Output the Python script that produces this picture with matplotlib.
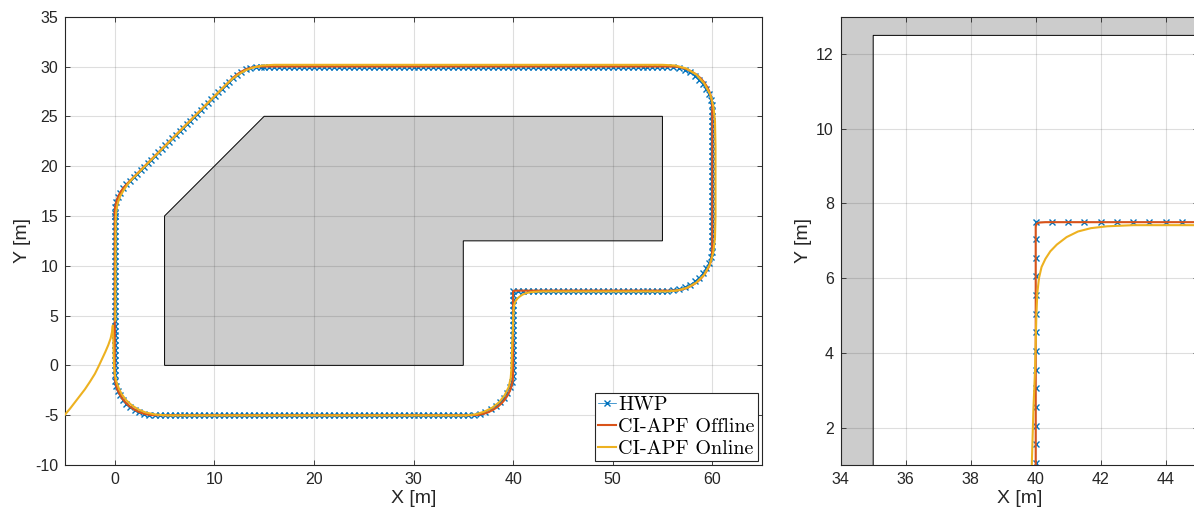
import numpy as np
import matplotlib
matplotlib.use("Agg")
import matplotlib.pyplot as plt
from matplotlib.patches import Polygon
from matplotlib.lines import Line2D
from matplotlib.font_manager import FontProperties

plt.rcParams['font.family'] = ['Liberation Sans', 'DejaVu Sans']
plt.rcParams['axes.unicode_minus'] = False

# ---------------- data ----------------
# obstacle polygon
OBST_X = [5, 5, 15, 55, 55, 35, 35]
OBST_Y = [0, 15, 25, 25, 12.5, 12.5, 0]

# HWP waypoints, segment by segment (counter-clockwise, starting on the left side going down)
HWP_LEFT_X = 0.0
HWP_LEFT_Y = [15.0, 14.5, 14.0, 13.5, 13.0, 12.5, 12.0, 11.5, 11.0, 10.5, 10.0, 9.5, 9.0, 8.5, 8.0,
              7.5, 7.0, 6.5, 6.0, 5.5, 5.0, 4.5, 4.0, 3.5, 3.0, 2.5, 2.0, 1.5, 1.0, 0.5, 0.0, -0.5, -1.0]
HWP_ARC_BL_X = [0.03, 0.14, 0.30, 0.54, 0.83, 1.17, 1.56, 2.00, 2.47, 2.96, 3.48]
HWP_ARC_BL_Y = [-1.52, -2.04, -2.53, -3.00, -3.44, -3.83, -4.17, -4.46, -4.70, -4.86, -4.97]
HWP_BOTTOM_X = [4.0, 4.5, 5.0, 5.5, 6.0, 6.5, 7.0, 7.5, 8.0, 8.5, 9.0, 9.5, 10.0, 10.5, 11.0, 11.5,
                12.0, 12.5, 13.0, 13.5, 14.0, 14.5, 15.0, 15.5, 16.0, 16.5, 17.0, 17.5, 18.0, 18.5,
                19.0, 19.5, 20.0, 20.5, 21.0, 21.5, 22.0, 22.5, 23.0, 23.5, 24.0, 24.5, 25.0, 25.5,
                26.0, 26.5, 27.0, 27.5, 28.0, 28.5, 29.0, 29.5, 30.0, 30.5, 31.0, 31.5, 32.0, 32.5,
                33.0, 33.5, 34.0, 34.5, 35.0, 35.5]
HWP_BOTTOM_Y = -5.0
HWP_ARC_BR_X = [36.09, 36.67, 37.22, 37.75, 38.24, 38.68, 39.07, 39.40, 39.66, 39.85, 39.96]
HWP_ARC_BR_Y = [-4.96, -4.85, -4.66, -4.40, -4.07, -3.68, -3.24, -2.75, -2.22, -1.66, -1.09]
HWP_MID_X = 40.0
HWP_MID_Y = [-0.45, 0.05, 0.55, 1.05, 1.55, 2.05, 2.55, 3.05, 3.55, 4.05, 4.55, 5.05, 5.55,
             6.05, 6.55, 7.05, 7.5]
HWP_INNER_X = [40.5, 41.0, 41.5, 42.0, 42.5, 43.0, 43.5, 44.0, 44.5, 45.0, 45.5, 46.0, 46.5, 47.0,
               47.5, 48.0, 48.5, 49.0, 49.5, 50.0, 50.5, 51.0, 51.5, 52.0, 52.5, 53.0, 53.5, 54.0,
               54.5, 55.0, 55.5]
HWP_INNER_Y = 7.5
HWP_ARC_RB_X = [56.09, 56.67, 57.22, 57.75, 58.24, 58.68, 59.07, 59.40, 59.66, 59.85, 59.96]
HWP_ARC_RB_Y = [7.54, 7.65, 7.84, 8.10, 8.43, 8.82, 9.26, 9.75, 10.28, 10.84, 11.41]
HWP_RIGHT_X = 60.0
HWP_RIGHT_Y = [12.0, 12.5, 13.0, 13.5, 14.0, 14.5, 15.0, 15.5, 16.0, 16.5, 17.0, 17.5, 18.0, 18.5,
               19.0, 19.5, 20.0, 20.5, 21.0, 21.5, 22.0, 22.5, 23.0, 23.5, 24.0, 24.5, 25.0, 25.5]
HWP_ARC_TR_X = [59.96, 59.85, 59.66, 59.40, 59.07, 58.68, 58.24, 57.75, 57.22, 56.67, 56.09]
HWP_ARC_TR_Y = [26.09, 26.67, 27.22, 27.75, 28.24, 28.68, 29.07, 29.40, 29.66, 29.85, 29.96]
HWP_TOP_X = [55.5, 55.0, 54.5, 54.0, 53.5, 53.0, 52.5, 52.0, 51.5, 51.0, 50.5, 50.0, 49.5, 49.0,
             48.5, 48.0, 47.5, 47.0, 46.5, 46.0, 45.5, 45.0, 44.5, 44.0, 43.5, 43.0, 42.5, 42.0,
             41.5, 41.0, 40.5, 40.0, 39.5, 39.0, 38.5, 38.0, 37.5, 37.0, 36.5, 36.0, 35.5, 35.0,
             34.5, 34.0, 33.5, 33.0, 32.5, 32.0, 31.5, 31.0, 30.5, 30.0, 29.5, 29.0, 28.5, 28.0,
             27.5, 27.0, 26.5, 26.0, 25.5, 25.0, 24.5, 24.0, 23.5, 23.0, 22.5, 22.0, 21.5, 21.0,
             20.5, 20.0, 19.5, 19.0, 18.5, 18.0, 17.5, 17.0, 16.5, 16.0, 15.5, 15.0]
HWP_TOP_Y = 30.0
HWP_ARC_TL_X = [14.66, 14.14, 13.62, 13.13, 12.66, 12.23, 11.83]
HWP_ARC_TL_Y = [30.0, 29.97, 29.86, 29.70, 29.46, 29.17, 28.83]
HWP_DIAG_X = [11.47, 11.12, 10.76, 10.41, 10.05, 9.70, 9.34, 8.99, 8.63, 8.28, 7.92, 7.57, 7.21,
              6.86, 6.50, 6.15, 5.79, 5.43, 5.08, 4.72, 4.37, 4.01, 3.66, 3.30, 2.95, 2.59, 2.24,
              1.88, 1.53]
HWP_DIAG_Y = [28.47, 28.12, 27.76, 27.41, 27.05, 26.70, 26.34, 25.99, 25.63, 25.28, 24.92, 24.57,
              24.21, 23.86, 23.50, 23.15, 22.79, 22.43, 22.08, 21.72, 21.37, 21.01, 20.66, 20.30,
              19.95, 19.59, 19.24, 18.88, 18.53]
HWP_ARC_LT_X = [1.17, 0.83, 0.54, 0.30, 0.14, 0.03, 0.0]
HWP_ARC_LT_Y = [18.17, 17.78, 17.34, 16.87, 16.38, 15.86, 15.34]

# CI-APF offline path (vertices)
OFF_X = [0.0, 0.0, 0.03, 0.14, 0.30, 0.54, 0.83, 1.17, 1.56, 2.00, 2.47, 2.96, 3.48, 4.0,
         36.0, 36.52, 37.04, 37.53, 38.00, 38.44, 38.83, 39.17, 39.46, 39.70, 39.86, 39.97, 40.0,
         40.0, 40.03, 40.12, 40.3,
         56.0, 56.52, 57.04, 57.53, 58.00, 58.44, 58.83, 59.17, 59.46, 59.70, 59.86, 59.97, 60.0,
         60.0, 59.97, 59.86, 59.70, 59.46, 59.17, 58.83, 58.44, 58.00, 57.53, 57.04, 56.52, 56.0,
         14.66, 14.14, 13.62, 13.13, 12.66, 12.23, 11.83,
         1.17, 0.83, 0.54, 0.30, 0.14, 0.03, 0.0]
OFF_Y = [15.34, -1.0, -1.52, -2.04, -2.53, -3.00, -3.44, -3.83, -4.17, -4.46, -4.70, -4.86, -4.97, -5.0,
         -5.0, -4.97, -4.86, -4.70, -4.46, -4.17, -3.83, -3.44, -3.00, -2.53, -2.04, -1.52, -1.0,
         7.38, 7.46, 7.49, 7.5,
         7.5, 7.53, 7.64, 7.80, 8.04, 8.33, 8.67, 9.06, 9.50, 9.97, 10.46, 10.98, 11.5,
         26.0, 26.52, 27.04, 27.53, 28.00, 28.44, 28.83, 29.17, 29.46, 29.70, 29.86, 29.97, 30.0,
         30.0, 29.97, 29.86, 29.70, 29.46, 29.17, 28.83,
         18.17, 17.78, 17.34, 16.87, 16.38, 15.86, 15.34]

# CI-APF online path (vertices)
ON_X = [-5.05, -4.5, -4.0, -3.5, -3.0, -2.5, -2.0, -1.65, -1.3, -0.95, -0.65, -0.42, -0.28, -0.2,
        -0.16, -0.12, -0.08, 0.0, 0.15, 0.38, 0.7, 1.15, 1.7, 2.35, 3.1, 4.0, 5.2, 35.3,
        36.2, 37.1, 37.9, 38.6, 39.15, 39.55, 39.76, 39.84, 39.88, 39.93, 39.98, 40.02, 40.05, 40.1,
        40.18, 40.3, 40.45, 40.65, 40.95, 41.3, 41.7, 42.2, 43.0, 55.5,
        56.5, 57.5, 58.4, 59.2, 59.75, 60.1, 60.28, 60.33, 60.33, 60.28, 60.12, 59.8, 59.2,
        58.4, 57.4, 56.3, 55.0, 16.0,
        14.8, 13.9, 13.1, 12.4, 11.8, 11.2, 1.6, 1.3, 0.9, 0.55, 0.3, 0.15, 0.08, 0.05]
ON_Y = [-5.0, -4.35, -3.7, -3.05, -2.4, -1.65, -0.85, -0.15, 0.6, 1.35, 2.05, 2.7, 3.35, 4.0,
        3.0, 1.5, 0.0, -0.9, -1.6, -2.25, -2.9, -3.5, -4.0, -4.42, -4.73, -4.92, -5.02, -5.02,
        -4.92, -4.65, -4.25, -3.7, -3.0, -2.2, -1.3, -0.3, 1.0, 2.5, 3.55, 5.0, 5.6, 6.0,
        6.3, 6.52, 6.72, 6.9, 7.1, 7.25, 7.34, 7.39, 7.42, 7.42,
        7.52, 7.8, 8.3, 9.1, 10.1, 11.3, 12.8, 15.0, 22.0, 24.5, 26.0, 27.2, 28.3,
        29.2, 29.8, 30.1, 30.17, 30.17,
        30.1, 29.9, 29.6, 29.2, 28.75, 28.2, 18.55, 18.2, 17.6, 17.0, 16.3, 15.5, 14.5, 4.5]

LEGEND_LABELS = ['HWP', 'CI-APF Offline', 'CI-APF Online']

# ---------------- assemble HWP ----------------
def seg(xs, ys):
    xs = np.atleast_1d(np.asarray(xs, float))
    ys = np.atleast_1d(np.asarray(ys, float))
    n = max(len(xs), len(ys))
    if len(xs) == 1:
        xs = np.full(n, xs[0])
    if len(ys) == 1:
        ys = np.full(n, ys[0])
    return xs, ys

segments = [
    seg(HWP_LEFT_X, HWP_LEFT_Y), seg(HWP_ARC_BL_X, HWP_ARC_BL_Y),
    seg(HWP_BOTTOM_X, HWP_BOTTOM_Y), seg(HWP_ARC_BR_X, HWP_ARC_BR_Y),
    seg(HWP_MID_X, HWP_MID_Y), seg(HWP_INNER_X, HWP_INNER_Y),
    seg(HWP_ARC_RB_X, HWP_ARC_RB_Y), seg(HWP_RIGHT_X, HWP_RIGHT_Y),
    seg(HWP_ARC_TR_X, HWP_ARC_TR_Y), seg(HWP_TOP_X, HWP_TOP_Y),
    seg(HWP_ARC_TL_X, HWP_ARC_TL_Y), seg(HWP_DIAG_X, HWP_DIAG_Y),
    seg(HWP_ARC_LT_X, HWP_ARC_LT_Y), seg(HWP_LEFT_X, HWP_LEFT_Y[:1]),
]
hwp_x = np.concatenate([s[0] for s in segments])
hwp_y = np.concatenate([s[1] for s in segments])

# ---------------- style ----------------
C_HWP = '#0072BD'
C_OFF = '#D95319'
C_ON = '#EDB120'
AX_C = '#262626'

W, H = 1194, 522
fig = plt.figure(figsize=(W / 100, H / 100), dpi=100)


def style_axes(ax):
    for sp in ax.spines.values():
        sp.set_color(AX_C)
        sp.set_linewidth(0.8)
    ax.tick_params(direction='in', length=3.6, width=0.6, top=True, right=True,
                   colors=AX_C, labelsize=11.5, pad=5)
    ax.grid(True, color=AX_C, alpha=0.15, linewidth=0.8)
    ax.set_axisbelow('line')
    ax.set_xlabel('X [m]', fontsize=14, color=AX_C, labelpad=2)
    ax.set_ylabel('Y [m]', fontsize=14, color=AX_C, labelpad=3)


def draw(ax):
    ax.add_patch(Polygon(np.column_stack([OBST_X, OBST_Y]), closed=True,
                         facecolor='#CCCCCC', edgecolor='black', linewidth=0.7, zorder=1))
    ax.plot(hwp_x, hwp_y, color=C_HWP, lw=0.5, marker='x', ms=4.2, mew=1.0, zorder=2)
    ax.plot(OFF_X, OFF_Y, color=C_OFF, lw=1.5, zorder=3)
    ax.plot(ON_X, ON_Y, color=C_ON, lw=1.5, zorder=4)


# left panel
ax1 = fig.add_axes([65 / W, 1 - 465 / H, 697 / W, (465 - 16.7) / H])
draw(ax1)
ax1.set_xlim(-5, 65)
ax1.set_ylim(-10, 35)
ax1.set_xticks([0, 10, 20, 30, 40, 50, 60])
ax1.set_yticks(range(-10, 36, 5))
style_axes(ax1)

handles = [Line2D([], [], color=C_HWP, lw=0.5, marker='x', ms=4.2, mew=1.0),
           Line2D([], [], color=C_OFF, lw=1.5),
           Line2D([], [], color=C_ON, lw=1.5)]
leg = ax1.legend(handles, LEGEND_LABELS, loc='lower right',
                 prop=FontProperties(family='cmr10', size=14.5),
                 handlelength=0.9, handletextpad=0.12, labelspacing=0.2,
                 borderpad=0.15, borderaxespad=0.2, fancybox=False, framealpha=1,
                 edgecolor=AX_C)
leg.get_frame().set_linewidth(0.8)

# right panel (zoom)
ax2 = fig.add_axes([840.7 / W, 1 - 465 / H, 357.5 / W, (465 - 16.7) / H])
draw(ax2)
ax2.set_xlim(34, 45)
ax2.set_ylim(1, 13)
ax2.set_xticks([34, 36, 38, 40, 42, 44])
ax2.set_yticks([2, 4, 6, 8, 10, 12])
style_axes(ax2)

fig.savefig('out.png', dpi=100)
